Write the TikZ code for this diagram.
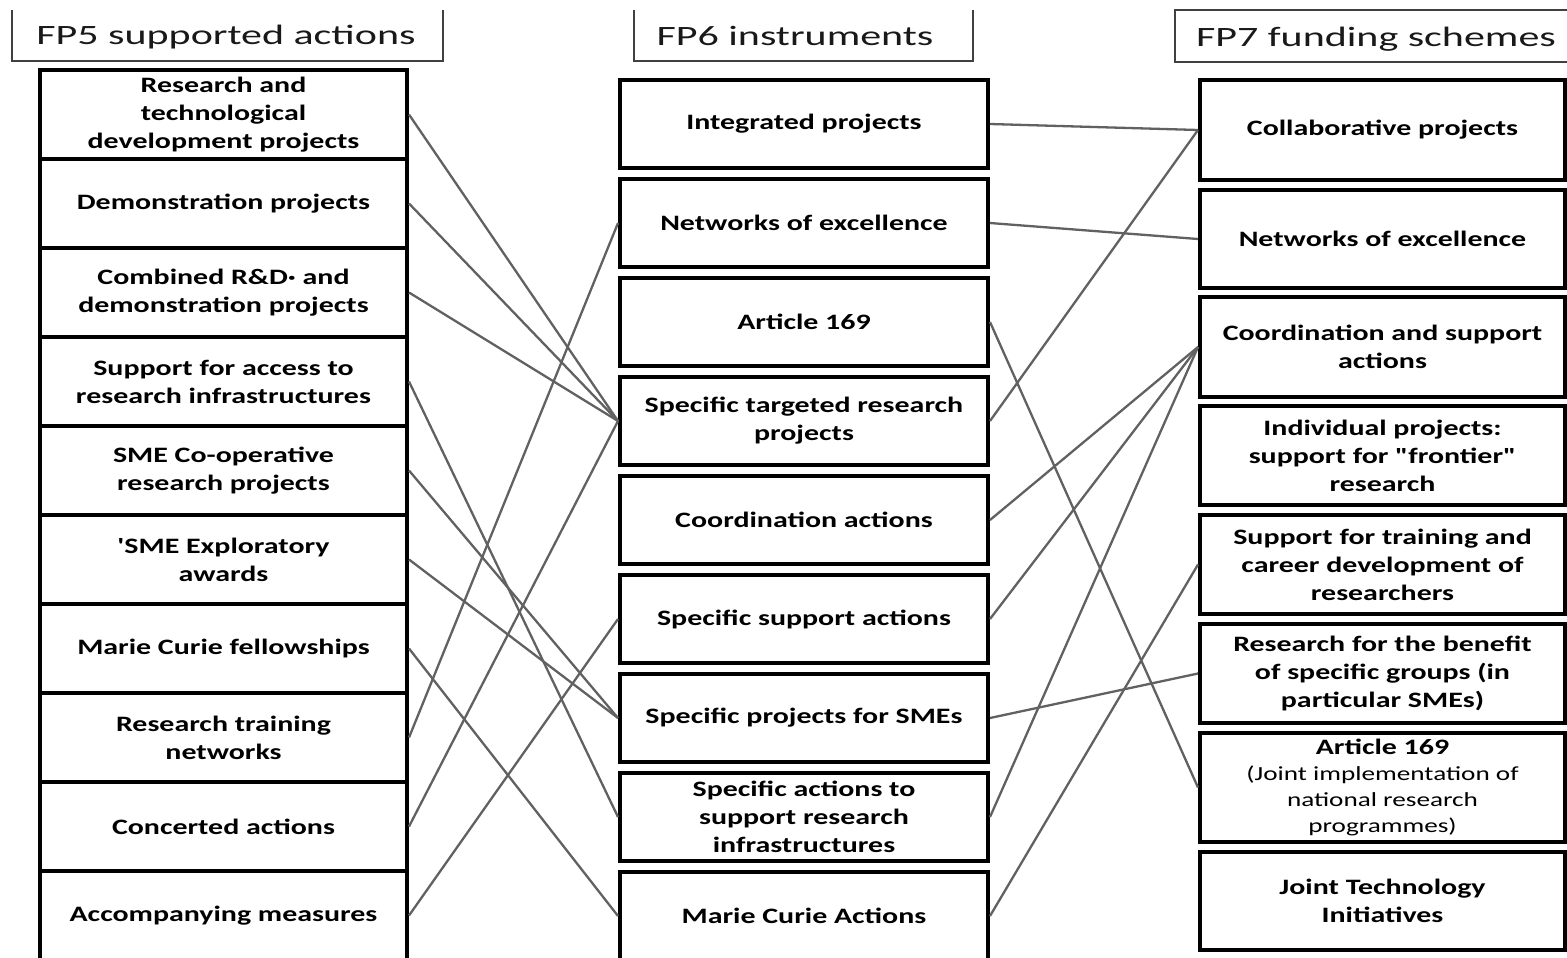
\documentclass[tikz,border=0pt]{standalone}
\usepackage{fontspec}
\newfontfamily\boxfont[FakeStretch=1.36]{Carlito}
\newfontfamily\headfont[FakeStretch=1.5]{Carlito}
\newcommand\subline[1]{{\mdseries\fontsize{20}{26}\selectfont #1}}
\begin{document}
\begin{tikzpicture}[x=1pt,y=-1pt,
  box/.style={draw=black, line width=4pt, fill=white, inner sep=0pt, align=center,
    font=\boxfont\bfseries\fontsize{22}{28}\selectfont, text=black},
  lbox/.style={box, minimum width=367pt, minimum height=89pt},
  mbox/.style={box, minimum width=368pt, minimum height=88pt},
  rbox/.style={box, minimum width=365pt},
  head/.style={font=\headfont\fontsize{28}{34}\selectfont, text=black!90, inner sep=0pt, anchor=base},
  hline/.style={draw=black!75, line width=2pt},
  link/.style={draw=black!62, line width=2.3pt}]
\useasboundingbox (0,0) rectangle (1567,958);

% headers
\draw[hline] (12,10) -- (12,61) -- (443,61) -- (443,10);
\node[head] (h5) at (226,45) {FP5 supported actions};
\draw[hline] (634,10) -- (634,61) -- (973,61) -- (973,10);
\node[head] (h6) at (795,46) {FP6 instruments};
\draw[hline] (1580,10) -- (1175,10) -- (1175,62) -- (1580,62);
\node[head] (h7) at (1376,47) {FP7 funding schemes};

% FP5 column
\node[lbox] (L1) at (223.5,114.5) {Research and\\technological\\development projects};
\node[lbox] (L2) at (223.5,203.5) {Demonstration projects};
\node[lbox] (L3) at (223.5,292.5) {Combined R\&D· and\\demonstration projects};
\node[lbox] (L4) at (223.5,381.5) {Support for access to\\research infrastructures};
\node[lbox] (L5) at (223.5,470.5) {SME Co-operative\\research projects};
\node[lbox] (L6) at (223.5,559.5) {'SME Exploratory\\awards};
\node[lbox] (L7) at (223.5,648.5) {Marie Curie fellowships};
\node[lbox] (L8) at (223.5,737.5) {Research training\\networks};
\node[lbox] (L9) at (223.5,826.5) {Concerted actions};
\node[lbox] (L10) at (223.5,915.5) {Accompanying measures};

% FP6 column
\node[mbox] (M1) at (804,124) {Integrated projects};
\node[mbox] (M2) at (804,223) {Networks of excellence};
\node[mbox] (M3) at (804,322) {Article 169};
\node[mbox] (M4) at (804,421) {Specific targeted research\\projects};
\node[mbox] (M5) at (804,520) {Coordination actions};
\node[mbox] (M6) at (804,619) {Specific support actions};
\node[mbox] (M7) at (804,718) {Specific projects for SMEs};
\node[mbox] (M8) at (804,817) {Specific actions to\\support research\\infrastructures};
\node[mbox] (M9) at (804,916) {Marie Curie Actions};

% FP7 column
\node[rbox, minimum height=100pt] (R1) at (1382.5,130) {Collaborative projects};
\node[rbox, minimum height=98pt] (R2) at (1382.5,239) {Networks of excellence};
\node[rbox, minimum height=100pt] (R3) at (1382.5,347) {Coordination and support\\actions};
\node[rbox, minimum height=99pt] (R4) at (1382.5,455.5) {Individual projects:\\support for "frontier"\\research};
\node[rbox, minimum height=99pt] (R5) at (1382.5,564.5) {Support for training and\\career development of\\researchers};
\node[rbox, minimum height=99pt] (R6) at (1382.5,673.5) {Research for the benefit\\of specific groups (in\\particular SMEs)};
\node[rbox, minimum height=109pt] (R7) at (1382.5,787.5) {Article 169\\[-2pt]\subline{(Joint implementation of}\\[-2pt]\subline{national research}\\[-2pt]\subline{programmes)}};
\node[rbox, minimum height=98pt] (R8) at (1382.5,901) {Joint Technology\\Initiatives};

% FP5 -> FP6
\draw[link] (L1.east) -- (M4.west);
\draw[link] (L2.east) -- (M4.west);
\draw[link] (L3.east) -- (M4.west);
\draw[link] (L4.east) -- (M8.west);
\draw[link] (L5.east) -- (M7.west);
\draw[link] (L6.east) -- (M7.west);
\draw[link] (L7.east) -- (M9.west);
\draw[link] (L8.east) -- (M2.west);
\draw[link] (L9.east) -- (M4.west);
\draw[link] (L10.east) -- (M6.west);

% FP6 -> FP7
\draw[link] (M1.east) -- (R1.west);
\draw[link] (M2.east) -- (R2.west);
\draw[link] (M3.east) -- (R7.west);
\draw[link] (M4.east) -- (R1.west);
\draw[link] (M5.east) -- (R3.west);
\draw[link] (M6.east) -- (R3.west);
\draw[link] (M7.east) -- (R6.west);
\draw[link] (M8.east) -- (R3.west);
\draw[link] (M9.east) -- (R5.west);
\end{tikzpicture}
\end{document}
